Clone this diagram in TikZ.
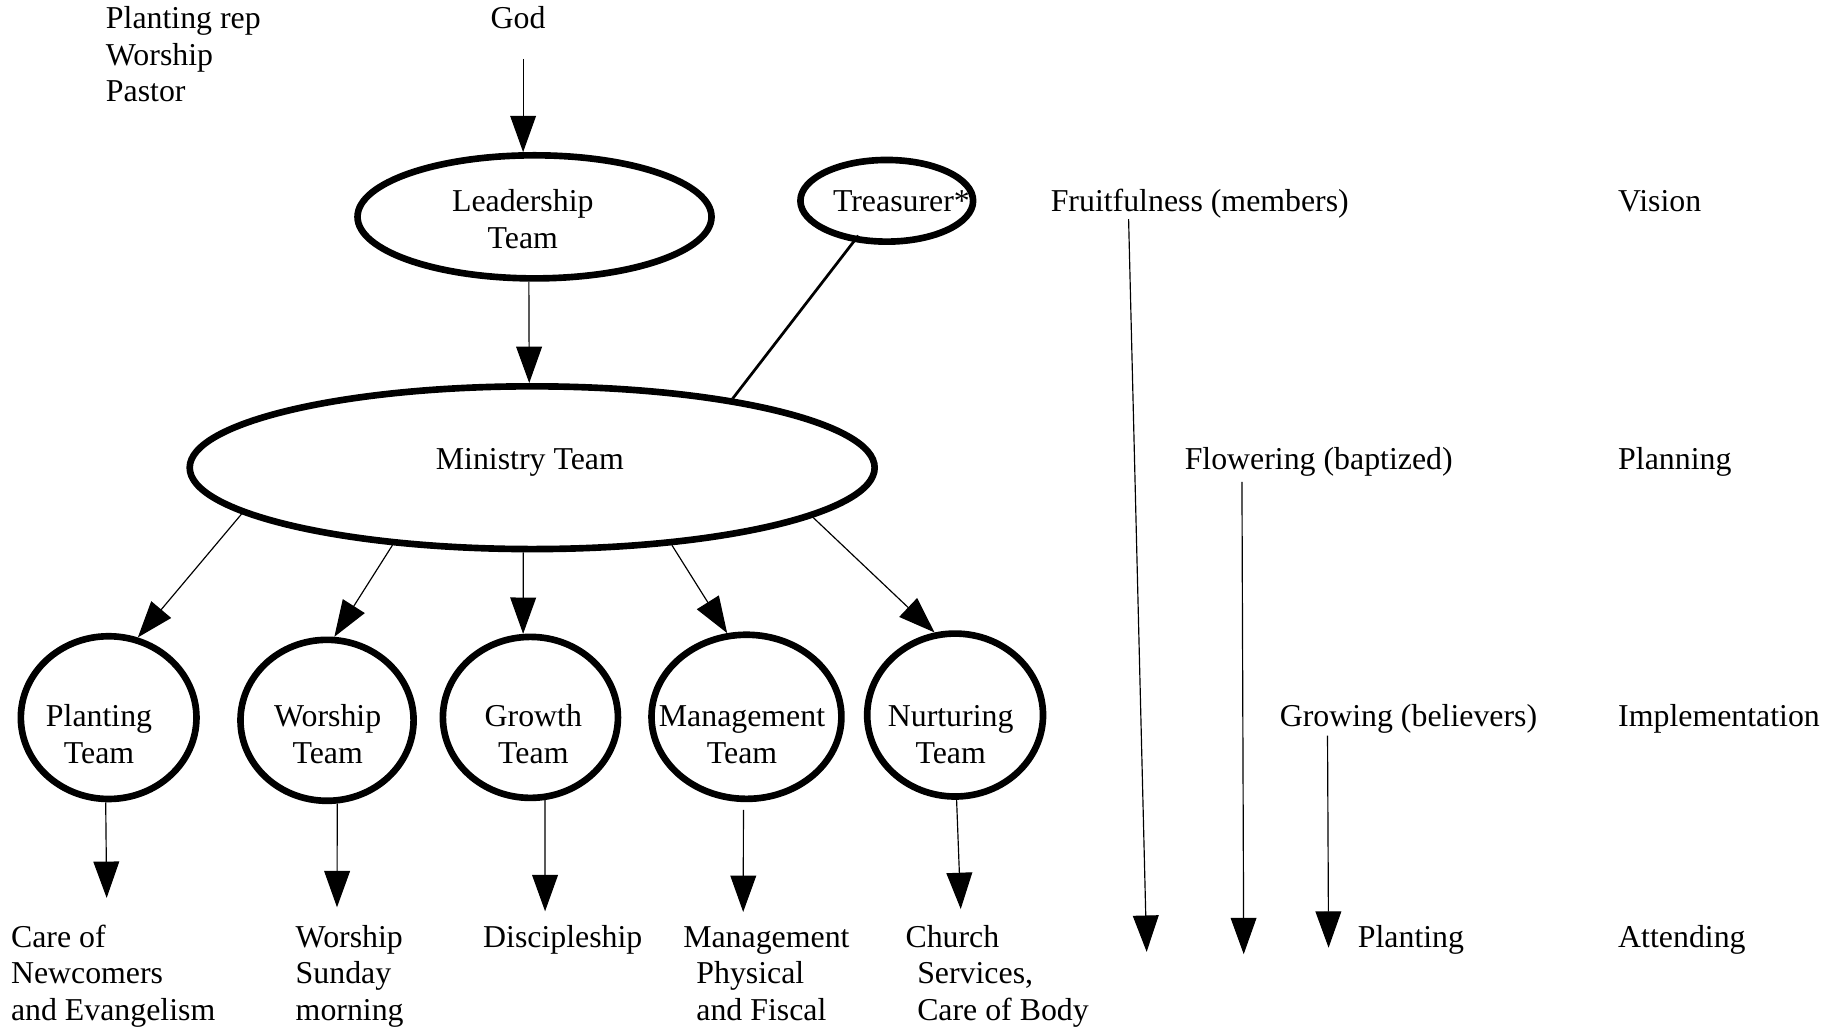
\documentclass[tikz,border=0pt]{standalone}
\usepackage{fontspec}
\setmainfont{Liberation Serif}
\usetikzlibrary{arrows.meta,shapes.geometric}
\newcommand\firstln{\rule{0pt}{13pt}}
\begin{document}
\begin{tikzpicture}[x=0.6pt,y=-0.6pt,
  lbl/.style={font=\fontsize{16.3}{18.78}\selectfont, inner sep=0pt, outer sep=0pt},
  oval/.style={ellipse, draw, line width=3.4pt, inner sep=0pt, outer sep=1.7pt},
  arr/.style={line width=0.6pt, -{Triangle[length=18.6pt,width=13.2pt]}},
  link/.style={line width=1.4pt}]
\path[fill=white, use as bounding box] (0,0) rectangle (1568,880);

% top texts
\node[lbl, anchor=north west, align=left] (reps) at (90.4,2.5) {\firstln Planting rep\\Worship\\Pastor};
\node[lbl, anchor=base] (god) at (442,24.2) {God};

% upper ovals
\node[oval, minimum width=181.2pt, minimum height=63pt] (lead) at (456,185) {};
\node[lbl, anchor=north, align=center] (leadT) at (446,158.9) {\firstln Leadership\\Team};
\node[oval, minimum width=88.4pt, minimum height=41.8pt] (treas) at (756.5,171.3) {};
\node[lbl, anchor=base] (treasT) at (769,180.6) {Treasurer*};
\node[oval, minimum width=350.6pt, minimum height=83.3pt] (min) at (454,399) {};
\node[lbl, anchor=base] (minT) at (452,400.4) {Ministry Team};

% team ovals
\node[oval, minimum width=89.9pt, minimum height=83.3pt] (plant) at (92.7,612.2) {};
\node[lbl, anchor=north, align=center] (plantT) at (84.5,598.3) {\firstln Planting\\Team};
\node[oval, minimum width=88.6pt, minimum height=82.4pt] (wor) at (279,614.5) {};
\node[lbl, anchor=north, align=center] (worT) at (279.5,598.3) {\firstln Worship\\Team};
\node[oval, minimum width=89.6pt, minimum height=82.4pt] (gro) at (452.5,612) {};
\node[lbl, anchor=north, align=center] (groT) at (455,598.3) {\firstln Growth\\Team};
\node[oval, minimum width=97.2pt, minimum height=84pt] (mgmt) at (636.8,611.5) {};
\node[lbl, anchor=north, align=center] (mgmtT) at (633,598.3) {\firstln Management\\Team};
\node[oval, minimum width=90pt, minimum height=83.4pt] (nurt) at (814.8,610) {};
\node[lbl, anchor=north, align=center] (nurtT) at (811,598.3) {\firstln Nurturing\\Team};

% bottom texts
\node[lbl, anchor=north west, align=left] (care) at (9.4,786.3) {\firstln Care of\\Newcomers\\and Evangelism};
\node[lbl, anchor=north west, align=left] (sunday) at (252.3,786.3) {\firstln Worship\\Sunday\\morning};
\node[lbl, anchor=base west] (disc) at (412.2,808) {Discipleship};
\node[lbl, anchor=north west, align=left] (fiscal) at (582.9,786.3) {\firstln Management\\\hspace*{6.7pt}Physical\\\hspace*{6.7pt}and Fiscal};
\node[lbl, anchor=north west, align=left] (church) at (772.5,786.3) {\firstln Church\\\hspace*{6pt}Services,\\\hspace*{6pt}Care of Body};

% right column texts
\node[lbl, anchor=base west] (fruit) at (896.4,180.6) {Fruitfulness (members)};
\node[lbl, anchor=base west] (vision) at (1380.5,180.6) {Vision};
\node[lbl, anchor=base west] (flower) at (1010.7,400.7) {Flowering (baptized)};
\node[lbl, anchor=base west] (planning) at (1380.5,400.7) {Planning};
\node[lbl, anchor=base west] (growing) at (1091.8,619.5) {Growing (believers)};
\node[lbl, anchor=base west] (impl) at (1380.5,619.5) {Implementation};
\node[lbl, anchor=base west] (plantR) at (1158.4,808) {Planting};
\node[lbl, anchor=base west] (attend) at (1380.5,808) {Attending};

% connectors
\draw[arr, shorten <=15.4pt] (lead.100 |- god.south) -- (lead.100);
\draw[arr] (lead.265) -- (min.92);
\draw[link, shorten <=-4pt] (treas.231) -- (min.19.5);

\draw[arr] (min.189.5) -- (plant.70);
\draw[arr] (min.209) -- (wor.85);
\draw[arr] (min.264) -- (gro.95);
\draw[arr] (min.331) -- (mgmt.103);
\draw[arr] (min.350.4) -- (nurt.104);

\coordinate (plantE) at (91,766);
\coordinate (worE) at (287.5,774);
\coordinate (groE) at (465,777.4);
\coordinate (mgmtE) at (634,778);
\coordinate (nurtE) at (819.6,775.5);
\draw[arr] (plant.268) -- (plantE);
\draw[arr] (wor.277) -- (worE);
\draw[arr] (gro.280) -- (groE);
\draw[arr, shorten <=4pt] (mgmt.268) -- (mgmtE);
\draw[arr] (nurt.271) -- (nurtE);

\coordinate (fruitS) at (962.8,187);
\coordinate (fruitE) at (978.2,812);
\coordinate (flowerS) at (1059.5,411);
\coordinate (flowerE) at (1061,814);
\coordinate (growS) at (1132.5,627.6);
\coordinate (growE) at (1133.4,808.5);
\draw[arr] (fruitS) -- (fruitE);
\draw[arr] (flowerS) -- (flowerE);
\draw[arr] (growS) -- (growE);
\end{tikzpicture}
\end{document}
